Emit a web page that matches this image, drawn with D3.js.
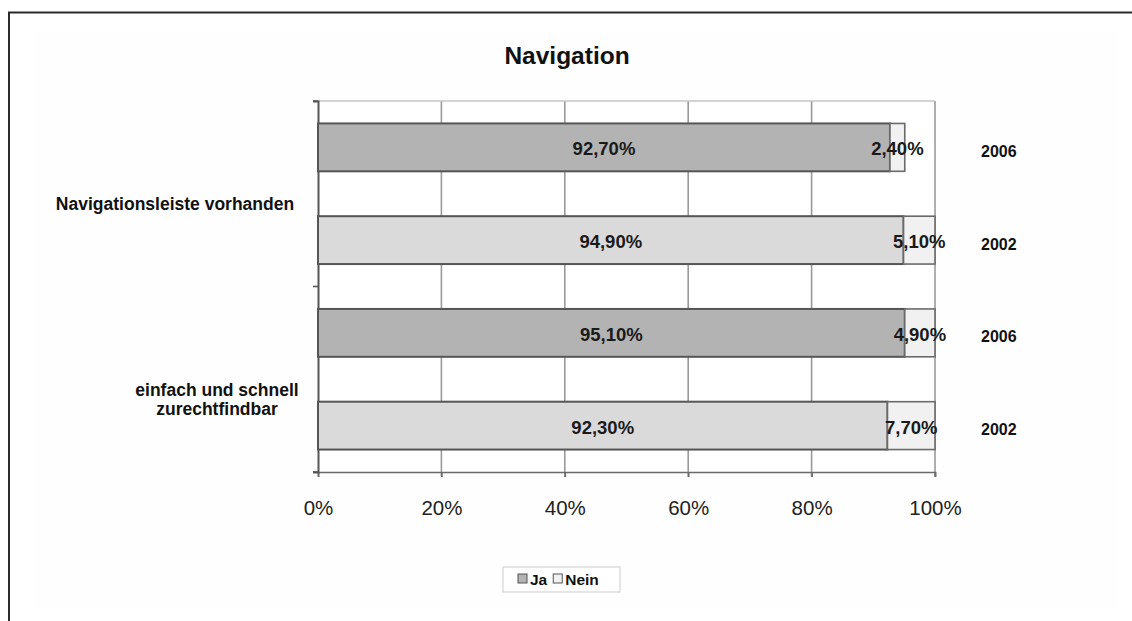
<!DOCTYPE html>
<html>
<head>
<meta charset="utf-8">
<script src="https://cdnjs.cloudflare.com/ajax/libs/d3/7.8.5/d3.min.js"></script>
<style>
  html, body { margin: 0; padding: 0; background: #fff; }
  svg { display: block; font-family: "Liberation Sans", Arial, sans-serif; }
</style>
</head>
<body>
<svg id="chart" width="1132" height="621"></svg>
<script>
// Survey results: share of "Ja" / "Nein" answers per question and year
const categories = ["Navigationsleiste vorhanden", "einfach und schnell zurechtfindbar"];
const years = ["2006", "2002"];
const jaValues = [92.7, 94.9, 95.1, 92.3];    // row order: cat1-2006, cat1-2002, cat2-2006, cat2-2002
const neinValues = [2.4, 5.1, 4.9, 7.7];
const xTicks = [0, 20, 40, 60, 80, 100];
const legendLabels = ["Ja", "Nein"];
const title = "Navigation";

const svg = d3.select("#chart");
const W = 1132, H = 621;

// outer frame and chart background
svg.append("rect").attr("x", 35).attr("y", 32).attr("width", 1083).attr("height", 576).attr("fill", "#fefefe");
svg.append("path").attr("d", `M9,${H} V12.5 H${W}`).attr("fill", "none").attr("stroke", "#2a2a2a").attr("stroke-width", 2);

const plot = { left: 318, right: 935, top: 101, bottom: 472 };

const x = d3.scaleLinear().domain([0, 100]).range([plot.left, plot.right]);

const rows = [];
categories.forEach((c, ci) => years.forEach((yr, yi) => {
  const i = ci * years.length + yi;
  rows.push({ id: i, cat: c, year: yr, ja: jaValues[i], nein: neinValues[i] });
}));

const yCat = d3.scaleBand().domain(categories).range([plot.top, plot.bottom]);
const yRow = d3.scaleBand().domain(rows.map(r => r.id)).range([plot.top, plot.bottom]).paddingInner(0.484).paddingOuter(0.242);

// plot area white background
svg.append("rect").attr("x", plot.left).attr("y", plot.top)
  .attr("width", plot.right - plot.left).attr("height", plot.bottom - plot.top).attr("fill", "#fff");

// vertical gridlines
svg.append("g").selectAll("line").data(xTicks.slice(1)).join("line")
  .attr("x1", d => x(d)).attr("x2", d => x(d))
  .attr("y1", plot.top).attr("y2", plot.bottom + 5)
  .attr("stroke", "#9a9a9a").attr("stroke-width", 1.6);
svg.append("line").attr("x1", plot.left).attr("x2", plot.right)
  .attr("y1", plot.top).attr("y2", plot.top).attr("stroke", "#c4c4c4").attr("stroke-width", 1.4);

// x axis
const xAxis = d3.axisBottom(x).tickValues(xTicks).tickFormat(d => d + "%").tickSize(5).tickPadding(0);
const gx = svg.append("g").attr("transform", `translate(0,${plot.bottom})`).call(xAxis);
gx.select(".domain").attr("stroke", "#6a6a6a").attr("stroke-width", 1.6);
gx.selectAll(".tick line").attr("stroke", "#6a6a6a").attr("stroke-width", 1.6);
gx.selectAll(".tick text").attr("font-size", 20.5).attr("fill", "#222").attr("dy", null).attr("y", 43)
  .attr("font-family", "Liberation Sans, Arial, sans-serif");

// y axis (category separators)
const yAxis = d3.axisLeft(yCat).tickValues([]).tickSizeOuter(5);
const gy = svg.append("g").attr("transform", `translate(${plot.left},0)`).call(yAxis);
gy.select(".domain").attr("stroke", "#555").attr("stroke-width", 2);
svg.append("g").selectAll("line").data([plot.top, (plot.top + plot.bottom) / 2, plot.bottom]).join("line")
  .attr("x1", plot.left - 5).attr("x2", plot.left).attr("y1", d => d).attr("y2", d => d)
  .attr("stroke", "#555").attr("stroke-width", 1.6);

const jaFill = { "2006": "#b3b3b3", "2002": "#dadada" };
const neinFill = "#f1f1f1";

const bars = svg.append("g");
bars.selectAll("rect.ja").data(rows).join("rect").attr("class", "ja")
  .attr("x", x(0)).attr("y", d => yRow(d.id))
  .attr("width", d => x(d.ja) - x(0)).attr("height", yRow.bandwidth())
  .attr("fill", d => jaFill[d.year]).attr("stroke", "#555").attr("stroke-width", 2);
bars.selectAll("rect.nein").data(rows).join("rect").attr("class", "nein")
  .attr("x", d => x(d.ja)).attr("y", d => yRow(d.id))
  .attr("width", d => x(d.ja + d.nein) - x(d.ja)).attr("height", yRow.bandwidth())
  .attr("fill", neinFill).attr("stroke", "#6a6a6a").attr("stroke-width", 1.6);

const fmt = v => v.toFixed(2).replace(".", ",") + "%";
const labels = svg.append("g").attr("font-size", 18.5).attr("font-weight", "bold").attr("fill", "#1a1a1a")
  .attr("text-anchor", "middle");
labels.selectAll("text.ja").data(rows).join("text").attr("class", "ja")
  .attr("x", d => x(d.ja / 2)).attr("y", d => yRow(d.id) + yRow.bandwidth() / 2 + 8)
  .text(d => fmt(d.ja));
labels.selectAll("text.nein").data(rows).join("text").attr("class", "nein")
  .attr("x", d => x(d.ja + d.nein / 2)).attr("y", d => yRow(d.id) + yRow.bandwidth() / 2 + 8)
  .text(d => fmt(d.nein));

// year labels at the right
svg.append("g").selectAll("text").data(rows).join("text")
  .attr("x", 981).attr("y", d => yRow(d.id) + yRow.bandwidth() / 2 + 9.5)
  .attr("font-size", 16).attr("font-weight", "bold").attr("fill", "#111")
  .text(d => d.year);

// category labels
const catLines = [["Navigationsleiste vorhanden"], ["einfach und schnell", "zurechtfindbar"]];
const catG = svg.append("g").attr("font-size", 17.5).attr("font-weight", "bold").attr("fill", "#111")
  .attr("text-anchor", "middle");
categories.forEach((c, ci) => {
  const lines = catLines[ci];
  const cy = yCat(c) + yCat.bandwidth() / 2 + (ci === 0 ? 16 : 26);
  const cx = ci === 0 ? 175 : 217;
  lines.forEach((ln, li) => {
    catG.append("text").attr("x", cx)
      .attr("y", cy + (li - (lines.length - 1) / 2) * 19)
      .text(ln);
  });
});

// title
svg.append("text").attr("x", 567).attr("y", 64).attr("text-anchor", "middle")
  .attr("font-size", 24.5).attr("font-weight", "bold").attr("fill", "#111").text(title);

// legend
const lg = svg.append("g");
lg.append("rect").attr("x", 503).attr("y", 567).attr("width", 117).attr("height", 25)
  .attr("fill", "#fff").attr("stroke", "#d4d4d4").attr("stroke-width", 1.2);
const legendFill = [jaFill["2006"], neinFill];
let lx = 518;
legendLabels.forEach((lab, i) => {
  lg.append("rect").attr("x", lx).attr("y", 574).attr("width", 9).attr("height", 9)
    .attr("fill", legendFill[i]).attr("stroke", "#555").attr("stroke-width", 1);
  const t = lg.append("text").attr("x", lx + 12).attr("y", 585).attr("font-size", 15.5)
    .attr("font-weight", "bold").attr("fill", "#111").text(lab);
  lx += 12 + t.node().getComputedTextLength() + 6;
});
</script>
</body>
</html>
